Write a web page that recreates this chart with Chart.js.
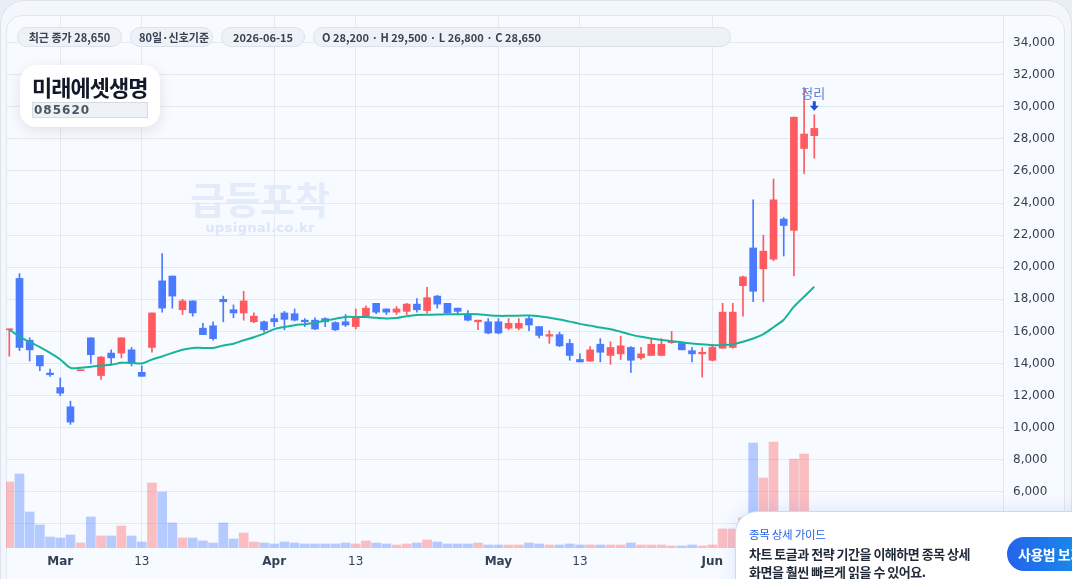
<!DOCTYPE html>
<html><head><meta charset="utf-8">
<script src="https://cdn.jsdelivr.net/npm/chart.js@4.4.1/dist/chart.umd.min.js"></script>
<style>
html,body{margin:0;padding:0;width:1072px;height:579px;overflow:hidden;background:#e9eef5;font-family:"Noto Sans CJK KR","Noto Sans",sans-serif;}
#outer{position:absolute;left:0;top:0;width:1072px;height:640px;background:#f3f6fb;border:1px solid #dce3ec;border-radius:24px;box-sizing:border-box;}
#inner{position:absolute;left:6px;top:15px;width:1059px;height:620px;background:#f7faff;border:1px solid #e1e7ef;border-radius:16px;box-sizing:border-box;}
#wrap{position:absolute;left:6px;top:15px;width:1059px;height:570px;}
#pills{position:absolute;left:17px;top:27px;display:flex;gap:8px;}
.pill{height:20px;box-sizing:border-box;border:1px solid #dbe2ea;background:#eef2f7;border-radius:10px;font-size:11px;font-weight:700;color:#374151;line-height:18px;padding:0 8px;white-space:nowrap;text-align:center;}
#title{position:absolute;left:20px;top:65px;width:140px;height:62px;background:#fff;border-radius:16px;box-shadow:0 4px 14px rgba(15,23,42,0.10);}
#title .name{position:absolute;left:12px;top:5px;font-size:22px;font-weight:700;color:#111827;letter-spacing:-1px;white-space:nowrap;}
#title .code{position:absolute;left:12px;top:37px;width:116px;height:16px;box-sizing:border-box;border:1px solid #d5dbe3;background:#eef1f5;font-family:"DejaVu Sans",sans-serif;font-size:12px;font-weight:700;color:#4b5563;letter-spacing:1px;line-height:14px;padding-left:1px;}
#wm1{position:absolute;left:160px;top:173px;width:200px;text-align:center;font-size:38px;font-weight:700;color:rgba(99,143,235,0.15);line-height:50px;}
#wm2{position:absolute;left:160px;top:220px;width:200px;text-align:center;font-family:"DejaVu Sans",sans-serif;font-size:13px;font-weight:700;color:rgba(99,143,235,0.2);letter-spacing:0.4px;}
#guide{position:absolute;left:735px;top:511px;width:380px;height:120px;background:#fff;border:1px solid #c9d8fb;border-radius:22px;box-sizing:border-box;box-shadow:0 -2px 16px rgba(37,99,235,0.12);}
#guide .g1{position:absolute;left:13px;top:14px;font-size:11.5px;color:#2563eb;letter-spacing:-0.3px;white-space:nowrap;}
#guide .g2{position:absolute;left:13px;top:33px;font-size:13px;font-weight:700;color:#1f2937;letter-spacing:-0.5px;line-height:18px;white-space:nowrap;}
#guide .btn{position:absolute;left:271px;top:25px;width:120px;height:34px;border-radius:17px;background:linear-gradient(90deg,#2563eb,#0ea5e9);color:#fff;font-size:14px;font-weight:700;line-height:34px;padding-left:11px;box-sizing:border-box;letter-spacing:-0.5px;white-space:nowrap;}
</style></head>
<body>
<div id="outer"></div>
<div id="inner"></div>
<div id="wm1">급등포착</div>
<div id="wm2">upsignal.co.kr</div>
<div id="wrap"><canvas id="c" width="1059" height="570"></canvas></div>
<div id="pills">
  <div class="pill" id="p1" style="width:105px"></div>
  <div class="pill" style="width:83px">80일·신호기준</div>
  <div class="pill" id="p3" style="width:84px"></div>
  <div class="pill" id="p4" style="width:418px;text-align:left"></div>
</div>
<div id="title"><div class="name">미래에셋생명</div><div class="code">085620</div></div>
<div id="guide"><div class="g1">종목 상세 가이드</div><div class="g2">차트 토글과 전략 기간을 이해하면 종목 상세<br>화면을 훨씬 빠르게 읽을 수 있어요.</div><div class="btn">사용법 보기</div></div>
<script>
const dates = ['2026-02-23','2026-02-24','2026-02-25','2026-02-26','2026-02-27','2026-03-03','2026-03-04','2026-03-05','2026-03-06','2026-03-09','2026-03-10','2026-03-11','2026-03-12','2026-03-13','2026-03-16','2026-03-17','2026-03-18','2026-03-19','2026-03-20','2026-03-23','2026-03-24','2026-03-25','2026-03-26','2026-03-27','2026-03-30','2026-03-31','2026-04-01','2026-04-02','2026-04-03','2026-04-06','2026-04-07','2026-04-08','2026-04-09','2026-04-10','2026-04-13','2026-04-14','2026-04-15','2026-04-16','2026-04-17','2026-04-20','2026-04-21','2026-04-22','2026-04-23','2026-04-24','2026-04-27','2026-04-28','2026-04-29','2026-04-30','2026-05-01','2026-05-04','2026-05-05','2026-05-06','2026-05-07','2026-05-08','2026-05-11','2026-05-12','2026-05-13','2026-05-14','2026-05-15','2026-05-18','2026-05-19','2026-05-20','2026-05-21','2026-05-22','2026-05-25','2026-05-26','2026-05-27','2026-05-28','2026-05-29','2026-06-01','2026-06-02','2026-06-03','2026-06-04','2026-06-05','2026-06-08','2026-06-09','2026-06-10','2026-06-11','2026-06-12','2026-06-15'];
const opens  = [16100,19300,15450,14500,13400,12500,11300,13550,15600,13250,14650,14650,14850,13450,15000,19150,19450,17350,17900,16200,16350,18000,17350,17150,16600,16600,16800,17150,17100,16700,16700,16800,16550,16600,16300,16950,17750,17400,17200,17250,17700,17300,18200,17750,17450,17050,16600,16600,16600,16200,16200,16800,16300,15700,15800,15250,14250,14150,15200,14500,14600,15000,14350,14500,14500,15300,15250,14800,14600,14200,14950,15000,18850,21200,19900,20500,23000,22300,27400,28200];
const highs  = [16150,19600,15600,14500,13650,13100,11650,13600,15600,14450,14850,15600,15000,13850,17150,20850,19450,18000,17900,16500,16600,18200,17650,18500,17150,16650,17050,17250,17400,16800,16850,16850,16600,17050,17400,17600,17750,17400,17550,17750,18050,18750,18250,17750,17450,17300,16700,16800,16800,16800,16800,17000,16300,16050,15950,15500,14600,15050,15550,15350,15700,15050,15000,15500,15550,16000,15350,15000,15000,15200,17750,17750,19450,24200,22000,25500,23100,29350,31200,29500];
const lows   = [14450,14800,14150,13550,13200,12000,10200,13550,14000,13000,13900,14350,13850,13200,14700,17200,17450,17050,16950,15800,15450,16600,16850,16700,16550,15950,16300,16100,16650,16300,16100,16300,16050,16300,16150,16900,17100,17050,17050,17050,17200,17150,17450,17050,17100,16650,16100,15850,15850,16100,16100,16050,15600,15250,15050,14200,14100,14150,14100,13950,14250,13450,14250,14500,14500,15250,14850,14100,13150,14150,14950,14950,16950,17850,17850,20400,20700,19450,25850,26800];
const closes = [16150,15000,14850,13850,13300,12150,10350,13600,14550,14400,14350,15600,14000,13200,17150,17450,18200,17900,17150,15800,15550,17850,17150,17900,16950,16100,16600,16750,16700,16600,16150,16600,16100,16400,16850,17450,17200,17200,17400,17700,17350,18100,17700,17150,17250,16700,16700,15900,15900,16500,16500,16400,15750,15800,15100,14500,14100,14850,14700,15000,15100,14200,14600,15200,15200,15400,14850,14600,14700,15000,17200,17200,19400,18500,21000,24200,22600,29350,28300,28650];
const maLine = [16120,15670,15340,15020,14660,14250,13730,13730,13800,13880,13920,14040,14040,14000,14240,14440,14660,14860,14970,14970,14970,15120,15230,15450,15640,15860,16140,16280,16390,16450,16540,16660,16790,16900,16900,16900,16850,16810,16840,16950,17020,17040,17050,17070,17070,17080,17070,17010,16970,16970,16980,16990,16950,16850,16740,16610,16470,16360,16240,16140,15980,15800,15660,15560,15470,15390,15320,15250,15200,15140,15150,15200,15360,15560,15830,16260,16730,17540,18160,18790];
const volumes = [1650,1850,900,575,275,250,325,125,775,300,300,550,300,150,1625,1400,625,250,250,175,125,625,225,375,150,125,100,150,125,100,100,100,100,125,100,175,125,100,75,100,125,200,150,100,100,100,125,75,75,75,75,125,100,75,75,100,75,75,75,75,75,125,75,75,75,50,50,75,50,75,475,475,750,2625,1750,2650,700,2225,2350,750];
const priceTicks = [4000,6000,8000,10000,12000,14000,16000,18000,20000,22000,24000,26000,28000,30000,32000,34000];
const monthNames = ['Jan','Feb','Mar','Apr','May','Jun','Jul','Aug','Sep','Oct','Nov','Dec'];
const signalIndex = dates.length - 1;
const signalLabel = '정리';

const UP = '#ff5a5f', DOWN = '#4a7bff';
const UPV = 'rgba(255,90,95,0.38)', DOWNV = 'rgba(74,123,255,0.38)';
const isUp = i => closes[i] >= opens[i];
const fmt = v => v.toLocaleString('en-US');

const xTicks = [];
dates.forEach((d, i) => {
  const m = +d.slice(5,7), day = +d.slice(8,10);
  const prevM = i > 0 ? +dates[i-1].slice(5,7) : m;
  if (i > 0 && m !== prevM) xTicks.push({value: i, label: monthNames[m-1], bold: true});
  else if (day === 13) xTicks.push({value: i, label: '13', bold: false});
});

const L = signalIndex;
document.getElementById('p1').textContent = '최근 종가 ' + fmt(closes[L]);
document.getElementById('p3').textContent = dates[L];
document.getElementById('p4').textContent = `O ${fmt(opens[L])} · H ${fmt(highs[L])} · L ${fmt(lows[L])} · C ${fmt(closes[L])}`;

const idx = dates.map((d, i) => i);

const signalPlugin = {
  id: 'signal',
  afterDatasetsDraw(chart) {
    const {ctx, scales: {x, y}} = chart;
    const px = x.getPixelForValue(signalIndex);
    const py = y.getPixelForValue(highs[signalIndex]);
    ctx.save();
    ctx.fillStyle = '#1d4ed8';
    const top = py - 13.5, tip = py - 4, hb = tip - 5;
    ctx.beginPath();
    ctx.moveTo(px - 1.5, top); ctx.lineTo(px + 1.5, top); ctx.lineTo(px + 1.5, hb);
    ctx.lineTo(px + 4.5, hb); ctx.lineTo(px, tip); ctx.lineTo(px - 4.5, hb); ctx.lineTo(px - 1.5, hb);
    ctx.closePath(); ctx.fill();
    ctx.font = '13px "Noto Sans CJK KR"';
    ctx.fillStyle = '#5b7bd5';
    ctx.textAlign = 'center'; ctx.textBaseline = 'middle';
    ctx.fillText(signalLabel, px - 1, py - 21.5);
    ctx.restore();
  }
};

new Chart(document.getElementById('c'), {
  type: 'bar',
  data: {
    datasets: [
      { type: 'line', label: 'MA', data: idx.map(i => ({x: i, y: maLine[i]})), borderColor: '#17b39b', borderWidth: 2, pointRadius: 0, tension: 0.3, yAxisID: 'y', order: 1 },
      { label: 'body', data: idx.map(i => ({x: i, y: [opens[i], closes[i]]})), backgroundColor: idx.map(i => isUp(i) ? UP : DOWN), barThickness: 7, minBarLength: 1, grouped: false, yAxisID: 'y', order: 2 },
      { label: 'wick', data: idx.map(i => ({x: i, y: [lows[i], highs[i]]})), backgroundColor: idx.map(i => isUp(i) ? UP : DOWN), barThickness: 1, grouped: false, yAxisID: 'y', order: 3 },
      { label: 'vol', data: idx.map(i => ({x: i, y: volumes[i]})), backgroundColor: idx.map(i => isUp(i) ? UPV : DOWNV), barThickness: 9, grouped: false, yAxisID: 'yv', order: 4 }
    ]
  },
  options: {
    responsive: false, animation: false,
    layout: { padding: 0 },
    plugins: { legend: { display: false }, tooltip: { enabled: false } },
    scales: {
      x: {
        type: 'linear', min: -0.324, max: 97.52, offset: false,
        grid: { offset: false, color: '#e4e9f0', drawTicks: false },
        border: { display: false },
        afterBuildTicks: s => { s.ticks = xTicks.map(t => ({value: t.value})); },
        afterFit: s => { s.height = 37; s.paddingLeft = 0; s.paddingRight = 0; },
        ticks: {
          autoSkip: false, maxRotation: 0, padding: 7, color: '#334155',
          callback: (v) => { const t = xTicks.find(t => t.value === v); return t ? t.label : ''; },
          font: ctx => { const t = xTicks[ctx.index]; return { family: 'DejaVu Sans', size: 12, weight: t && t.bold ? 'bold' : 'normal' }; }
        }
      },
      y: {
        type: 'linear', position: 'right', min: 2500, max: 35720,
        grid: { color: '#e4e9f0', drawTicks: false },
        border: { display: true, color: '#e1e7ef' },
        afterBuildTicks: s => { s.ticks = priceTicks.map(v => ({value: v})); },
        afterFit: s => { s.width = 62; s.paddingTop = 0; s.paddingBottom = 0; },
        ticks: { padding: 10, color: '#374151', font: { family: 'DejaVu Sans', size: 12 }, callback: v => fmt(v) }
      },
      yv: { type: 'linear', display: false, min: 0, max: 13325 }
    }
  },
  plugins: [signalPlugin]
});
</script>
</body></html>
